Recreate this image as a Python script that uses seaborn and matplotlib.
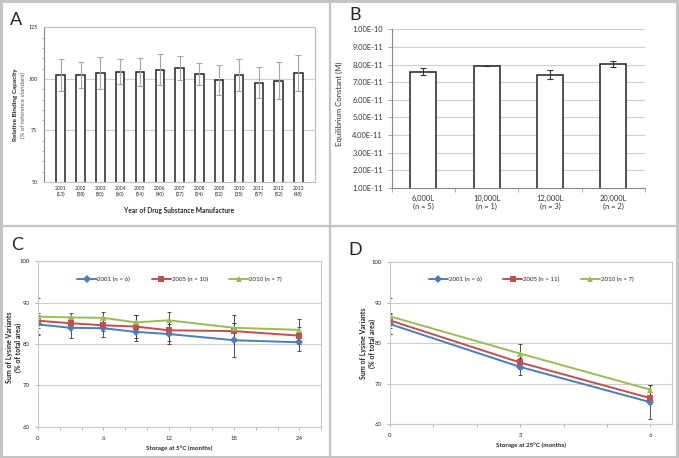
import matplotlib
matplotlib.use('Agg')
import matplotlib.pyplot as plt
import matplotlib.ticker as mticker
from matplotlib.lines import Line2D
import pandas as pd
import seaborn as sns

# Panel A data
years = ['2001', '2002', '2003', '2004', '2005', '2006', '2007',
         '2008', '2009', '2010', '2011', '2012', '2013']
year_n = [13, 38, 50, 60, 54, 40, 37, 34, 32, 35, 57, 52, 48]
binding = [101.9, 101.8, 102.9, 103.5, 103.5, 104.5, 105.2,
           102.4, 99.5, 101.9, 98.1, 99.2, 102.9]
binding_err = [7.6, 6.2, 7.9, 6.0, 6.7, 7.4, 5.9, 5.5, 7.4, 7.8, 7.6, 8.8, 8.6]

# Panel B data
scales = ['6,000L', '10,000L', '12,000L', '20,000L']
scale_n = [5, 1, 3, 2]
keq = [7.60e-11, 7.90e-11, 7.42e-11, 8.02e-11]
keq_err = [0.21e-11, 0.0, 0.27e-11, 0.18e-11]

# Panel C data (5 C storage)
lots = ['2001', '2005', '2010']
c_months = [0, 3, 6, 9, 12, 18, 24]
c_n = [6, 10, 7]
c_2001 = [84.7, 83.9, 83.8, 82.9, 82.4, 80.9, 80.4]
c_2005 = [85.6, 85.0, 84.5, 84.2, 83.3, 83.1, 82.0]
c_2010 = [86.6, 86.4, 86.3, 85.2, 85.7, 83.9, 83.4]
c_2001_err = [2.4, 2.5, 2.2, 2.3, 2.3, 4.1, 2.1]
c_2005_err = [1.8, 1.2, 1.4, 2.7, 2.6, 2.0, 2.0]
c_2010_err = [4.4, 1.1, 1.5, 1.7, 2.1, 3.1, 2.6]

# Panel D data (25 C storage)
d_months = [0, 3, 6]
d_n = [6, 11, 7]
d_2001 = [84.7, 74.1, 65.4]
d_2005 = [85.6, 75.2, 66.4]
d_2010 = [86.6, 77.4, 68.5]
d_2001_err = [2.4, 2.1, 4.2]
d_2005_err = [1.8, 1.5, 1.5]
d_2010_err = [4.4, 2.3, 1.2]

line_colors = ['#4a7ebb', '#c0504d', '#9bbb59']
line_markers = ['D', 's', '^']

sns.set_style('white')
plt.rcParams['font.family'] = ['Lato', 'DejaVu Sans']

fig = plt.figure(figsize=(6.79, 4.58), dpi=100)

# gray panel borders
border = '#c4c4c4'
fig.add_artist(plt.Rectangle((0.002, 0.003), 0.995, 0.994, transform=fig.transFigure,
                             fill=False, edgecolor=border, linewidth=2.2))
fig.add_artist(Line2D([330/679, 330/679], [0, 1], transform=fig.transFigure, color=border, lw=1.6))
fig.add_artist(Line2D([0, 1], [1 - 226/458, 1 - 226/458], transform=fig.transFigure, color=border, lw=1.6))

grid_c = '#cfcfcf'

# ---------------- A ----------------
axA = fig.add_axes([0.065, 0.603, 0.399, 0.337])
dfA = pd.DataFrame({'year': [f'{y}\n({n})' for y, n in zip(years, year_n)], 'value': binding})
sns.barplot(data=dfA, x='year', y='value', ax=axA, color='white', edgecolor='#222222',
            linewidth=1.1, width=0.43, errorbar=None)
axA.errorbar(range(len(years)), binding, yerr=binding_err, fmt='none', ecolor='#a6a6a6',
             elinewidth=0.8, capsize=2, capthick=0.8, zorder=3)
axA.set_ylim(50, 125)
axA.set_yticks([50, 75, 100, 125])
axA.yaxis.set_minor_locator(mticker.MultipleLocator(5))
axA.tick_params(axis='y', which='major', labelsize=3.8, length=3, width=0.5, color='#888888', pad=2)
axA.tick_params(axis='y', which='minor', length=1.8, width=0.5, color='#888888', left=True)
axA.tick_params(axis='x', labelsize=3.6, length=0, pad=3)
for g in [75, 100]:
    axA.axhline(g, color=grid_c, lw=0.8, zorder=0)
for s in axA.spines.values():
    s.set_color('#bdbdbd')
    s.set_linewidth(0.8)
axA.spines['left'].set_color('#888888')
axA.set_xlabel('Year of Drug Substance Manufacture', fontsize=4.8, fontweight='bold', labelpad=7)
axA.set_ylabel('')
fig.text(15/679, 1 - 105/458, 'Relative Binding Capacity', rotation=90, fontsize=4.6,
         fontweight='bold', ha='center', va='center')
fig.text(23/679, 1 - 105/458, '(% of reference standard)', rotation=90, fontsize=4.3,
         color='#555555', ha='center', va='center')
fig.text(10/679, 1 - 25/458, 'A', fontsize=13)

# ---------------- B ----------------
axB = fig.add_axes([0.577, 0.590, 0.373, 0.346])
dfB = pd.DataFrame({'scale': [f'{s}\n(n = {n})' for s, n in zip(scales, scale_n)], 'value': keq})
sns.barplot(data=dfB, x='scale', y='value', ax=axB, color='white', edgecolor='#222222',
            linewidth=1.1, width=0.41, errorbar=None)
axB.errorbar(range(len(scales)), keq, yerr=keq_err, fmt='none', ecolor='#333333',
             elinewidth=0.8, capsize=2.2, capthick=0.8, zorder=3)
axB.set_ylim(1e-11, 1e-10)
axB.set_yticks([i * 1e-11 for i in range(1, 11)])
axB.yaxis.set_major_formatter(mticker.FuncFormatter(lambda v, p: f'{v:.2E}'))
axB.set_axisbelow(True)
axB.yaxis.grid(True, color=grid_c, lw=0.8)
axB.set_xlim(-0.5, 3.5)
axB.set_xticks([-0.5, 0.5, 1.5, 2.5, 3.5], minor=True)
axB.tick_params(axis='x', which='minor', length=3, width=0.5, color='#888888', bottom=True)
axB.tick_params(axis='x', which='major', length=0, labelsize=5.4, pad=5, labelcolor='#333333')
axB.tick_params(axis='y', length=3, width=0.5, color='#888888', labelsize=5.4, left=True,
                labelcolor='#333333')
for k in ['top', 'right']:
    axB.spines[k].set_visible(False)
for k in ['left', 'bottom']:
    axB.spines[k].set_color('#888888')
    axB.spines[k].set_linewidth(0.8)
axB.set_xlabel('')
axB.set_ylabel('')
fig.text(339/679, 1 - 104/458, 'Equilibrium Constant (M)', rotation=90, fontsize=5.6,
         color='#333333', ha='center', va='center')
fig.text(349/679, 1 - 20/458, 'B', fontsize=13)


def stability_panel(ax, months, series, errs, ns, xmax, major, minor, xlabel,
                    letter, lx, ly, ylx, yly):
    rows = []
    for lot, vals, n in zip(lots, series, ns):
        for m, v in zip(months, vals):
            rows.append({'month': m, 'value': v, 'lot': f'{lot} (n = {n})'})
    df = pd.DataFrame(rows)
    for vals, err in zip(series, errs):
        ax.errorbar(months, vals, yerr=err, fmt='none', ecolor='#333333', elinewidth=0.6,
                    capsize=1.6, capthick=0.6, zorder=1)
    sns.lineplot(data=df, x='month', y='value', hue='lot', style='lot', markers=line_markers,
                 dashes=False, palette=line_colors, linewidth=1.4, markersize=4.4,
                 markeredgewidth=0, ax=ax, zorder=2)
    handles, labels = ax.get_legend_handles_labels()
    ax.legend(handles, labels, loc='upper center', bbox_to_anchor=(0.5, 0.94), ncol=3,
              frameon=False, fontsize=4.4, handlelength=3.2, columnspacing=3.5,
              handletextpad=0.1)
    ax.set_xlim(0, xmax)
    ax.set_ylim(60, 100)
    ax.set_xticks(major)
    ax.xaxis.set_minor_locator(mticker.MultipleLocator(minor))
    ax.set_yticks([60, 70, 80, 90, 100])
    ax.set_axisbelow(True)
    ax.yaxis.grid(True, color=grid_c, lw=0.8)
    ax.tick_params(axis='x', which='both', length=2.5, width=0.5, color='#999999', bottom=True,
                   labelsize=4.3, pad=4)
    ax.tick_params(axis='y', length=2.5, width=0.5, color='#999999', left=True, labelsize=4.3)
    for s in ax.spines.values():
        s.set_color('#c3cad6')
        s.set_linewidth(0.8)
    ax.set_xlabel(xlabel, fontsize=4.5, fontweight='bold', labelpad=3)
    ax.set_ylabel('')
    fig.text(ylx, yly, 'Sum of Lysine Variants\n(% of total area)', rotation=90,
             fontsize=5.0, fontweight='bold', ha='center', va='center', linespacing=1.25)
    fig.text(lx, ly, letter, fontsize=13)


# ---------------- C ----------------
axC = fig.add_axes([0.056, 0.068, 0.417, 0.362])
stability_panel(axC, c_months, [c_2001, c_2005, c_2010], [c_2001_err, c_2005_err, c_2010_err],
                c_n, 26, [0, 6, 12, 18, 24], 2, 'Storage at 5°C (months)', 'C',
                11/679, 1 - 250/458, 14/679, 1 - 347/458)

# ---------------- D ----------------
axD = fig.add_axes([0.574, 0.074, 0.416, 0.354])
stability_panel(axD, d_months, [d_2001, d_2005, d_2010], [d_2001_err, d_2005_err, d_2010_err],
                d_n, 6.5, [0, 3, 6], 1, 'Storage at 25°C (months)', 'D',
                348/679, 1 - 255/458, 368/679, 1 - 343/458)

fig.savefig('out.png', dpi=100)
